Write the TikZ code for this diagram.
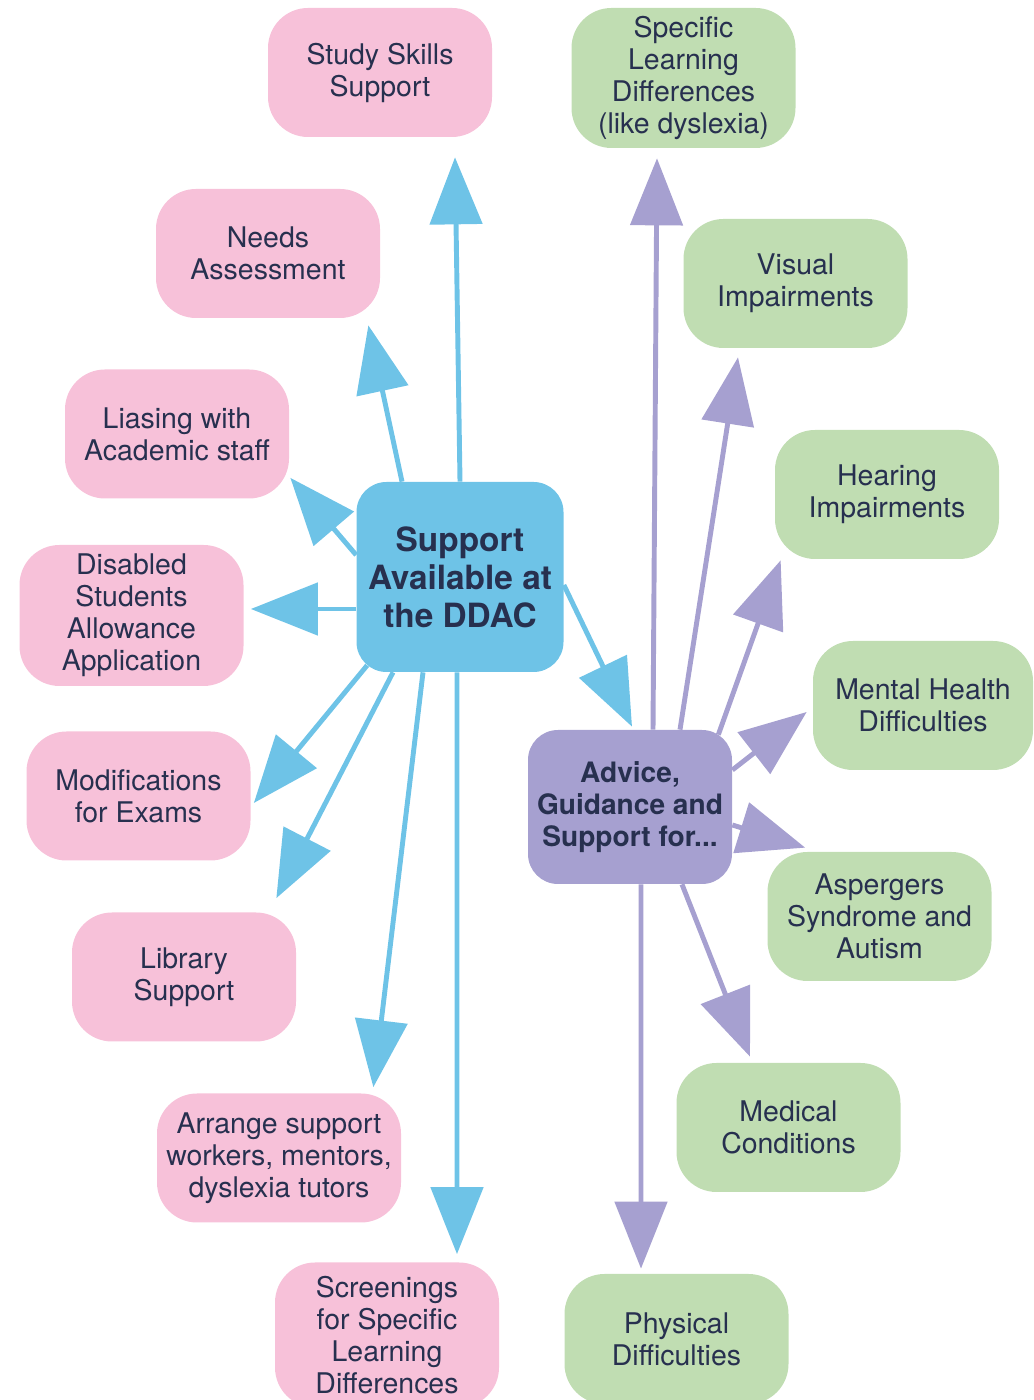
\documentclass[tikz,border=0pt]{standalone}
\usepackage{fontspec}
\setmainfont{TeX Gyre Heros}
\usetikzlibrary{calc,arrows.meta}
\definecolor{pinkfill}{HTML}{F7C1D9}
\definecolor{greenfill}{HTML}{C0DDB2}
\definecolor{bluefill}{HTML}{6EC3E7}
\definecolor{purplefill}{HTML}{A6A0D0}
\definecolor{navytext}{HTML}{27304F}
\tikzset{
  box/.style={rounded corners=0.8cm, minimum width=4.48cm, minimum height=2.58cm,
    align=center, text=navytext, inner sep=0pt, font=\fontsize{16.2}{18.2}\selectfont},
  pinkbox/.style={box, fill=pinkfill},
  greenbox/.style={box, fill=greenfill},
  bluearrow/.style={line width=2.8pt, draw=bluefill, -{Triangle[length=1.34cm,width=1.04cm]}},
  purplearrow/.style={line width=2.8pt, draw=purplefill, -{Triangle[length=1.34cm,width=1.04cm]}}
}

\begin{document}
\begin{tikzpicture}
			%%%%% START %%%%%
			\useasboundingbox (0, 0) rectangle (20.66, 28);
			
			% centre boxes
			\node[box, fill=bluefill, rounded corners=0.6cm, minimum width=4.14cm, minimum height=3.8cm,
			  font=\bfseries\fontsize{19}{21.6}\selectfont] (sup) at (9.2, 16.46) {Support\\Available at\\the DDAC};
			\node[box, fill=purplefill, rounded corners=0.6cm, minimum width=4.08cm, minimum height=3.08cm,
			  font=\bfseries\fontsize{16}{18.2}\selectfont] (adv) at (12.6, 11.86) {Advice,\\Guidance and\\Support for...};
			
			% services
			\node[pinkbox] (study) at (7.6, 26.55) {Study Skills\\Support};
			\node[pinkbox] (needs) at (5.36, 22.93) {Needs\\Assessment};
			\node[pinkbox] (liase) at (3.54, 19.32) {Liasing with\\Academic staff};
			\node[pinkbox, minimum height=2.82cm] (dsa) at (2.63, 15.69) {Disabled\\Students\\Allowance\\Application};
			\node[pinkbox] (exams) at (2.77, 12.08) {Modifications\\for Exams};
			\node[pinkbox] (library) at (3.68, 8.46) {Library\\Support};
			\node[pinkbox, minimum width=4.88cm] (arrange) at (5.58, 4.84) {Arrange support\\workers, mentors,\\dyslexia tutors};
			\node[pinkbox, minimum height=2.9cm] (screen) at (7.74, 1.3) {Screenings\\for Specific\\Learning\\Differences};
			
			% needs
			\node[greenbox, minimum height=2.8cm] (sld) at (13.67, 26.44) {Specific\\Learning\\Differences\\(like dyslexia)};
			\node[greenbox] (visual) at (15.91, 22.33) {Visual\\Impairments};
			\node[greenbox] (hearing) at (17.74, 18.11) {Hearing\\Impairments};
			\node[greenbox, minimum width=4.4cm] (mental) at (18.46, 13.89) {Mental Health\\Difficulties};
			\node[greenbox] (asp) at (17.59, 9.67) {Aspergers\\Syndrome and\\Autism};
			\node[greenbox] (medical) at (15.77, 5.45) {Medical\\Conditions};
			\node[greenbox, minimum height=2.6cm] (phys) at (13.53, 1.22) {Physical\\Difficulties};
			
			% blue arrows
			\draw[bluearrow] (sup.north) -- ($(study.south)+(1.5,-0.4)$);
			\draw[bluearrow] ($(sup.north)+(-1.16,0)$) -- ($(needs.south east)+(-0.24,-0.14)$);
			\draw[bluearrow] ($(sup.west)+(0,0.44)$) -- ($(liase.south east)+(0.02,0.42)$);
			\draw[bluearrow] ($(sup.west)+(0,-0.64)$) -- ($(dsa.east)+(0.14,0.13)$);
			\draw[bluearrow] ($(sup.south west)+(0.22,0.14)$) -- ($(exams.east)+(0.06,-0.14)$);
			\draw[bluearrow] ($(sup.south)+(-1.34,0)$) -- ($(library.north east)+(-0.4,0.28)$);
			\draw[bluearrow] ($(sup.south)+(-0.74,0)$) -- ($(arrange.north east)+(-0.56,0.12)$);
			\draw[bluearrow] ($(sup.south)+(-0.06,0)$) -- ($(screen.north)+(1.4,0.16)$);
			\draw[bluearrow] ($(sup.east)+(0,-0.16)$) -- ($(adv.north)+(0.04,0.06)$);
			
			% purple arrows
			\draw[purplearrow] ($(adv.north)+(0.46,0)$) -- ($(sld.south)+(-0.53,-0.2)$);
			\draw[purplearrow] ($(adv.north)+(1.0,0)$) -- ($(visual.south)+(-1.15,-0.18)$);
			\draw[purplearrow] ($(adv.north east)+(-0.28,-0.1)$) -- ($(hearing.south west)+(0.12,-0.02)$);
			\draw[purplearrow] ($(adv.east)+(0,0.74)$) -- ($(mental.west)+(-0.12,-0.13)$);
			\draw[purplearrow] ($(adv.east)+(0,-0.36)$) -- ($(asp.north west)+(0.76,0.08)$);
			\draw[purplearrow] ($(adv.south)+(1.04,0)$) -- ($(medical.north)+(-0.77,0.12)$);
			\draw[purplearrow] ($(adv.south)+(0.22,0)$) -- ($(phys.north)+(-0.71,0.1)$);
			
			%%%%% END %%%%%
\end{tikzpicture}
\end{document}
